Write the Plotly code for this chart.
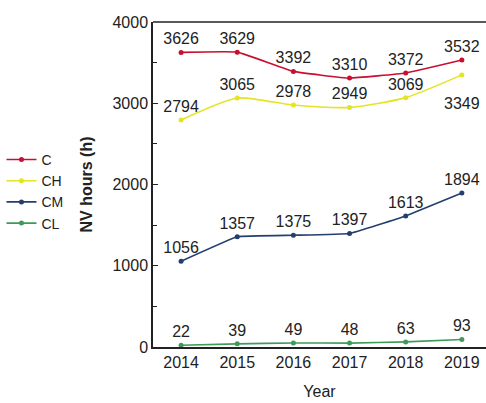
import plotly.graph_objects as go

years = [2014, 2015, 2016, 2017, 2018, 2019]
c_vals = [3626, 3629, 3392, 3310, 3372, 3532]
ch_vals = [2794, 3065, 2978, 2949, 3069, 3349]
cm_vals = [1056, 1357, 1375, 1397, 1613, 1894]
cl_vals = [22, 39, 49, 48, 63, 93]

series = [
    ("C", c_vals, "#c8102e", 0.3),
    ("CH", ch_vals, "#e4e424", 0.6),
    ("CM", cm_vals, "#243f6e", 0.2),
    ("CL", cl_vals, "#3e9a58", 0.2),
]

label_font = dict(family="Liberation Sans, Arial", size=16, color="#222222")

fig = go.Figure()
for name, vals, color, sm in series:
    texts = [str(v) for v in vals]
    if name == "CH":
        texts[-1] = ""  # drawn below the point as an annotation
    fig.add_trace(go.Scatter(
        x=years, y=vals, name=name, mode="lines+markers+text",
        line=dict(color=color, width=1.6, shape="spline", smoothing=sm),
        marker=dict(color=color, size=5),
        text=texts, textposition="top center",
        textfont=label_font,
        cliponaxis=False,
    ))

fig.add_annotation(x=years[-1], y=ch_vals[-1], text=str(ch_vals[-1]), showarrow=False,
                   yshift=-29, font=label_font)

fig.update_layout(
    width=486, height=403,
    margin=dict(l=153, r=0, t=22, b=56),
    paper_bgcolor="white", plot_bgcolor="white",
    font=dict(family="Liberation Sans, Arial", size=16, color="#222222"),
    showlegend=True,
    legend=dict(x=-0.455, y=0.625, xanchor="left", yanchor="top",
                font=dict(size=14, color="#222222"), tracegroupgap=0,
                itemwidth=30, bgcolor="rgba(0,0,0,0)"),
    shapes=[dict(type="line", xref="paper", yref="paper", x0=0, x1=1, y0=1, y1=1,
                 line=dict(color="#222222", width=1.5))],
)
fig.update_xaxes(
    range=[2013.5, 2019.43], tickvals=years, ticktext=[str(y) for y in years],
    showline=True, linecolor="#222222", linewidth=1.5,
    ticks="", showgrid=False, zeroline=False,
    tickfont=dict(size=16),
    title=dict(text="Year", standoff=16, font=dict(size=16)),
)
fig.update_yaxes(
    range=[0, 4000], tickvals=[0, 1000, 2000, 3000, 4000],
    showline=True, linecolor="#222222", linewidth=1.5,
    ticks="inside", ticklen=5, tickcolor="#222222",
    minor=dict(tickvals=[500, 1500, 2500, 3500], ticks="inside", ticklen=4, tickcolor="#222222"),
    showgrid=False, zeroline=False,
    tickfont=dict(size=16),
    title=dict(text="<b>NV hours (h)</b>", standoff=16, font=dict(size=16)),
)
fig.write_html("out.html")
